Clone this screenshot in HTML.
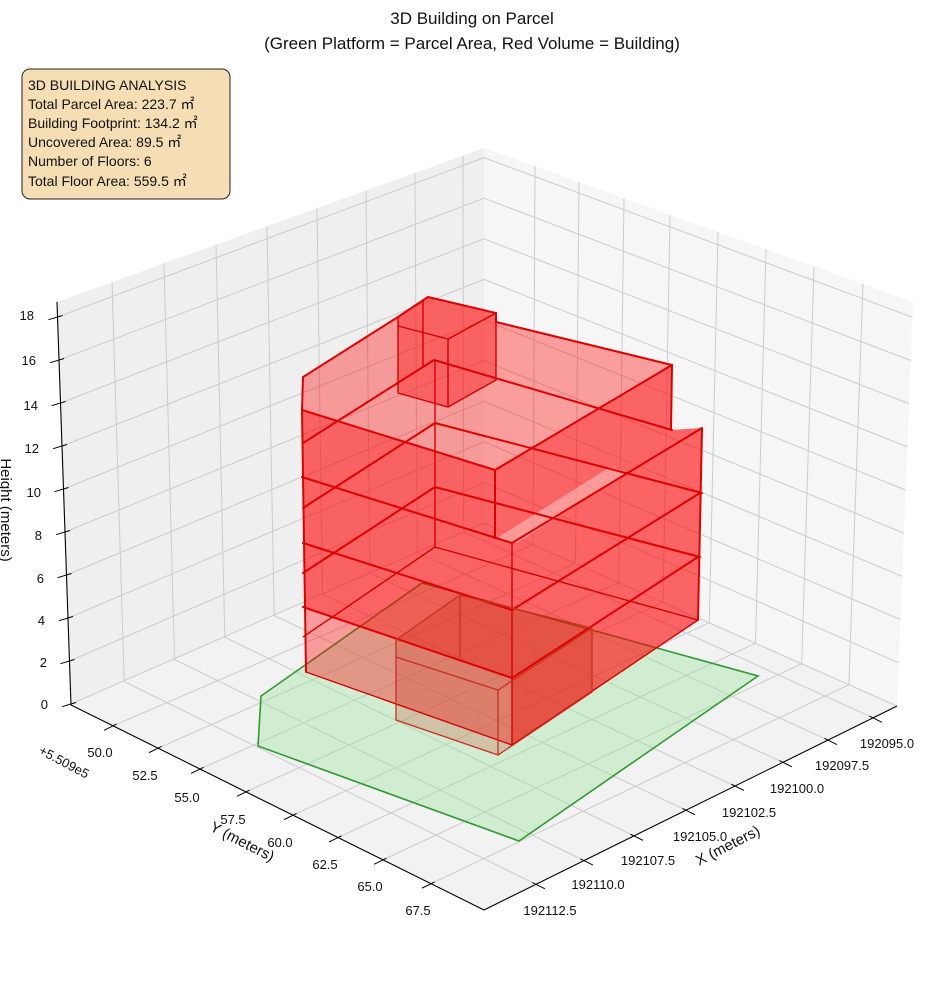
<!DOCTYPE html>
<html><head><meta charset="utf-8"><style>
html,body{margin:0;padding:0;background:#fff;}
svg{display:block;font-family:"Liberation Sans","Noto Sans CJK JP",sans-serif;}
</style></head><body>
<svg id="s" width="944" height="992" viewBox="0 0 944 992" xmlns="http://www.w3.org/2000/svg">
<rect width="944" height="992" fill="#fff"/>
<polygon points="57,302 484,148 484,523 71,705" fill="#efefef"/>
<polygon points="484,148 913,302 897,706 484,523" fill="#f6f6f6"/>
<polygon points="71,705 484,523 897,706 484,910" fill="#f2f2f2"/>
<g id="grid" stroke="#cbcbcb" stroke-width="1" fill="none"></g>
<polygon points="261,696 258,746 519,841 758,676 422,583" fill="rgba(150,230,150,0.35)" stroke="#2f9a2f" stroke-width="1.6"/>
<g fill="rgba(255,0,0,0.36)" stroke="none">
<polygon points="303,377 398,317 428,297 496,313 496,322 672,365 671,430 702,428 698,620 512,745 306,672 302,410"/>
<polygon points="302,410 495,470 495,538 512,544 512,678 305,607"/>
<polygon points="495,470 672,365 671,430 702,428 698,620 512,745 512,544 495,538"/>
<polygon points="398,317 428,297 496,313 496,380 448,407 398,393"/>
</g>
<polygon points="396,640 460,595 592,628 592,692 498,755 396,720" fill="rgba(200,40,20,0.22)"/>
<polygon points="497,538 610,467 628,472 517,543" fill="rgba(255,255,255,0.35)"/>
<g stroke="#e00000" stroke-width="2" fill="none" stroke-linecap="round">
<polyline points="302,410 303,377 398,317 428,297 496,313 496,322 672,365 671,430"/>
<line x1="302" y1="410" x2="306" y2="672"/>
<line x1="672" y1="365" x2="495" y2="470"/>
<line x1="302" y1="410" x2="495" y2="470"/>
<line x1="495" y1="470" x2="495" y2="538"/>
<line x1="303" y1="443" x2="434" y2="360"/>
<line x1="434" y1="360" x2="672" y2="430"/>
<line x1="303" y1="508" x2="435" y2="423"/>
<line x1="435" y1="423" x2="702" y2="493"/>
<line x1="302" y1="477" x2="512" y2="543"/>
<line x1="512" y1="543" x2="702" y2="428"/>
<line x1="702" y1="428" x2="698" y2="620"/>
<line x1="303" y1="543" x2="512" y2="610"/>
<line x1="512" y1="610" x2="700" y2="493"/>
<line x1="303" y1="573" x2="435" y2="487"/>
<line x1="435" y1="487" x2="700" y2="557"/>
<line x1="303" y1="607" x2="512" y2="678"/>
<line x1="512" y1="678" x2="698" y2="557"/>
</g>
<g stroke="#d40000" stroke-width="1.4" fill="none">
<line x1="512" y1="543" x2="512" y2="745"/>
<line x1="435" y1="360" x2="435" y2="547"/>
<line x1="303" y1="637" x2="435" y2="547"/>
<line x1="435" y1="547" x2="698" y2="620"/>
<line x1="306" y1="672" x2="512" y2="745"/>
<line x1="512" y1="745" x2="698" y2="620"/>
<polyline points="398,317 398,393 448,407 496,380 496,313"/>
<polyline points="398,326 448,339 496,313"/>
<line x1="448" y1="339" x2="448" y2="407"/>
<line x1="423" y1="300" x2="423" y2="367"/>
</g>
<g stroke="#c83020" stroke-width="1.3" fill="none">
<polyline points="396,640 460,595 592,628 592,692 498,755 396,720 396,640"/>
<polyline points="396,657 498,690 592,628"/>
<line x1="498" y1="690" x2="498" y2="755"/>
<line x1="460" y1="595" x2="460" y2="658"/>
</g>
<g stroke="#000" stroke-width="1.1" fill="none">
<line x1="57" y1="302" x2="71" y2="705"/>
<line x1="71" y1="705" x2="484" y2="910"/>
<line x1="484" y1="910" x2="897" y2="706"/>
</g>
<g id="ticks" stroke="#000" stroke-width="1" fill="none"></g>
<g font-size="13" fill="#111" text-anchor="end">
<text x="48" y="709">0</text>
<text x="47" y="667">2</text>
<text x="45" y="625">4</text>
<text x="44" y="583">6</text>
<text x="42" y="540">8</text>
<text x="41" y="497">10</text>
<text x="39" y="453">12</text>
<text x="38" y="410">14</text>
<text x="36" y="365">16</text>
<text x="34" y="320">18</text>
</g>
<g font-size="13" fill="#111" text-anchor="middle">
<text x="100" y="757">50.0</text>
<text x="145" y="780">52.5</text>
<text x="187" y="802">55.0</text>
<text x="233" y="824">57.5</text>
<text x="280" y="847">60.0</text>
<text x="325" y="869">62.5</text>
<text x="370" y="891">65.0</text>
<text x="418" y="915">67.5</text>
<text x="887" y="748">192095.0</text>
<text x="842" y="770">192097.5</text>
<text x="797" y="793">192100.0</text>
<text x="749" y="817">192102.5</text>
<text x="700" y="841">192105.0</text>
<text x="648" y="865">192107.5</text>
<text x="598" y="889">192110.0</text>
<text x="550" y="915">192112.5</text>
</g>
<text transform="translate(62,766) rotate(28)" font-size="13" text-anchor="middle" fill="#111">+5.509e5</text>
<text transform="translate(240,846) rotate(27)" font-size="15" text-anchor="middle" fill="#111">Y (meters)</text>
<text transform="translate(730,850) rotate(-27)" font-size="15" text-anchor="middle" fill="#111">X (meters)</text>
<text transform="translate(1,510) rotate(90)" font-size="15" text-anchor="middle" fill="#111">Height (meters)</text>
<text x="472" y="24" font-size="17" text-anchor="middle" fill="#111">3D Building on Parcel</text>
<text x="472" y="49" font-size="17" text-anchor="middle" fill="#111">(Green Platform = Parcel Area, Red Volume = Building)</text>
<rect x="22" y="69" width="208" height="130" rx="8" fill="#f5deb3" stroke="#222" stroke-width="1"/>
<g font-size="14" fill="#111">
<text x="28" y="90">3D BUILDING ANALYSIS</text>
<text x="28" y="109">Total Parcel Area: 223.7 ㎡</text>
<text x="28" y="128">Building Footprint: 134.2 ㎡</text>
<text x="28" y="147">Uncovered Area: 89.5 ㎡</text>
<text x="28" y="166">Number of Floors: 6</text>
<text x="28" y="186">Total Floor Area: 559.5 ㎡</text>
</g>
</svg>
<script>
(function(){
var NS="http://www.w3.org/2000/svg";
function ln(g,x1,y1,x2,y2){var l=document.createElementNS(NS,"line");l.setAttribute("x1",x1);l.setAttribute("y1",y1);l.setAttribute("x2",x2);l.setAttribute("y2",y2);g.appendChild(l);}
var g=document.getElementById("grid"),tk=document.getElementById("ticks");
var LT=[57,302],BT=[484,148],LB=[71,705],BB=[484,523],RT=[913,302],RB=[897,706];
function L(a,b,t){return [a[0]+(b[0]-a[0])*t,a[1]+(b[1]-a[1])*t];}
var lv=[112,164,216,267,317,366,415,463],lb=[];
lv.forEach(function(x){var t=(x-57)/427;var p=L(LT,BT,t),q=L(LB,BB,t);ln(g,p[0],p[1],q[0],q[1]);lb.push(q);});
var rv=[535,579,624,670,718,766,814,863],rb=[];
rv.forEach(function(x){var t=(x-484)/429;var p=L(BT,RT,t),q=L(BB,RB,t);ln(g,p[0],p[1],q[0],q[1]);rb.push(q);});
for(var z=0;z<=18;z+=2){
 var lx=71-14*z/18.7,ly=704-21.5*z,by=523-20.3*z,rx=897+16*z/18.7,ry=706-21.6*z;
 ln(g,lx,ly,484,by);ln(g,484,by,rx,ry);
 ln(tk,lx-9,ly+2.7,lx+5,ly-1.5);
}
var xt=[873,828,783,735,686,634,584,536];
xt.forEach(function(x,k){var y=706+(897-x)*0.494;var q=lb[7-k];ln(g,x,y,q[0],q[1]);
 ln(tk,x-0.896*4,y-0.445*4,x+0.896*10,y+0.445*10);});
var yt=[113,158,200,246,293,338,383,431];
yt.forEach(function(x,k){var y=705+(x-71)*0.4964;var q=rb[k];ln(g,x,y,q[0],q[1]);
 ln(tk,x+0.897*4,y-0.443*4,x-0.897*10,y+0.443*10);});
})();
</script>
</body></html>
